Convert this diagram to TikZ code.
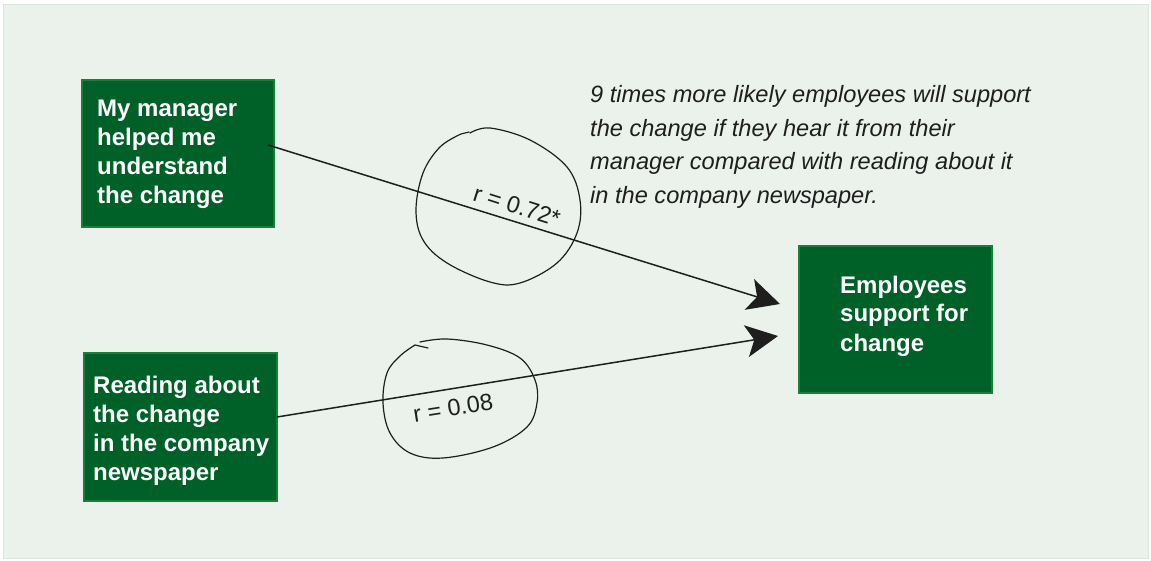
\documentclass[tikz,border=0pt]{standalone}
\usepackage{fontspec}
\setmainfont{Liberation Sans}
\usetikzlibrary{arrows.meta}
\definecolor{panelbg}{HTML}{EBF2EC}
\definecolor{panelline}{HTML}{DCE6DE}
\definecolor{boxfill}{HTML}{006128}
\definecolor{boxline}{HTML}{1B7D3B}
\definecolor{ink}{HTML}{1E1E1E}
\tikzset{
  box/.style={draw=boxline, line width=1.5pt, fill=boxfill, minimum width=#1, inner sep=0pt},
  boxtext/.style={text=white, font=\fontsize{24}{29}\selectfont\bfseries, align=left, anchor=base west, inner sep=0pt},
  conn/.style={draw=ink, line width=1.5pt, -{Stealth[length=32pt,width=32pt,inset=8pt]}},
  hand/.style={draw=ink, line width=1.2pt, line cap=round, line join=round},
  rlabel/.style={text=ink, font=\fontsize{23.5}{27}\selectfont, inner sep=0pt},
  note/.style={text=ink, font=\fontsize{23.6}{33.5}\selectfont\itshape, align=left, anchor=base west, inner sep=0pt}
}
\begin{document}
\begin{tikzpicture}[x=1pt,y=-1pt]
\useasboundingbox (0,0) rectangle (1151,561);
\fill[white] (0,0) rectangle (1151,561);
\filldraw[fill=panelbg, draw=panelline, line width=1pt] (3.5,4.5) rectangle (1148.5,558.5);
% boxes
\node[box=192pt, minimum height=147pt] (b1) at (178,153.5) {};
\node[box=193pt, minimum height=148pt] (b2) at (180.5,427) {};
\node[box=193pt, minimum height=147pt] (b3) at (895.5,319.5) {};
% text nodes: anchor at baseline of the last line
\node[boxtext] (t1) at (97,204) {My manager\\helped me\\understand\\the change};
\node[boxtext] (t2) at (93,480) {Reading about\\the change\\in the company\\newspaper};
\node[boxtext] (t3) at (840,351) {Employees\\support for\\change};
% connectors
\coordinate (s1) at (268,145);
\coordinate (e1) at (780,304);
\coordinate (s2) at (277,417);
\coordinate (e2) at (778,336);
\draw[conn] (s1) -- (e1);
\draw[conn] (s2) -- (e2);
% hand-drawn loops
\draw[hand] plot[smooth, tension=0.6] coordinates {(470,133) (490,128) (530,140) (567,167) (580,200) (577,233) (557,263) (520,283) (490,282) (447,263) (423,240) (416,210) (423,173) (440,147) (461,134)} -- (469,132);
\draw[hand] plot[smooth, tension=0.6] coordinates {(420,342) (447,339) (487,345) (520,358) (535,380) (537,403) (527,427) (493,447) (443,458) (410,453) (390,433) (383,403) (387,373) (400,356) (415,345)} -- (428,348);
% labels
\node[rlabel, rotate=-17.6] (r1) at (517,206) {r = 0.72*};
\node[rlabel, rotate=9] (r2) at (453,408) {r = 0.08};
% note
\node[note] (n) at (590,203.5) {9 times more likely employees will support\\the change if they hear it from their\\manager compared with reading about it\\in the company newspaper.};
\end{tikzpicture}
\end{document}
